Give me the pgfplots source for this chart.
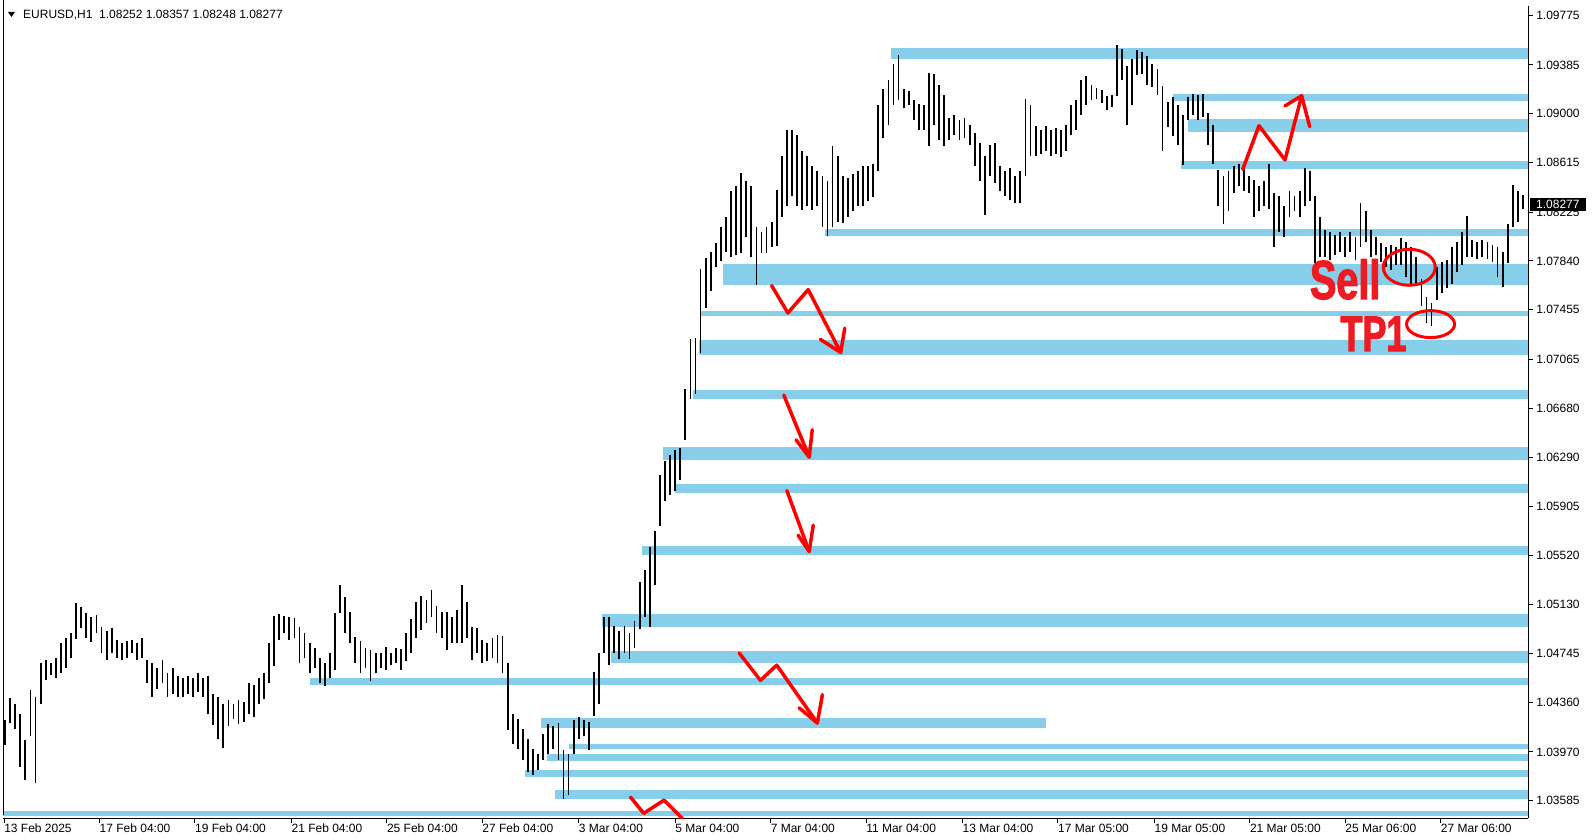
\documentclass[border=0pt]{standalone}
\usepackage{fontspec}
\setmainfont{Liberation Sans}
\newfontfamily\impactfont{Liberation Sans}[UprightFont={* Bold}, FakeStretch=0.72, FakeBold=2]
\usepackage{pgfplots}
\pgfplotsset{compat=1.18}
\usepackage{pgfplotstable}
\definecolor{zone}{RGB}{135,206,235}
\definecolor{mtred}{RGB}{237,28,36}

\pgfplotstableread{
x lo hi
5 1.04022 1.04222
10 1.04198 1.04398
15 1.04150 1.04350
20 1.03854 1.04270
25 1.03750 1.04062
30 1.04094 1.04462
35 1.03726 1.04406
40 1.04350 1.04670
45 1.04534 1.04694
50 1.04574 1.04670
55 1.04550 1.04710
60 1.04590 1.04830
65 1.04630 1.04870
70 1.04710 1.04910
75 1.04862 1.05142
80 1.04950 1.05110
85 1.04870 1.05062
90 1.04838 1.05030
95 1.04910 1.05046
100 1.04750 1.04958
105 1.04694 1.04926
110 1.04750 1.04950
115 1.04710 1.04854
120 1.04694 1.04830
125 1.04710 1.04846
130 1.04750 1.04854
135 1.04694 1.04830
140 1.04710 1.04870
145 1.04510 1.04694
150 1.04406 1.04670
155 1.04470 1.04630
160 1.04510 1.04694
165 1.04406 1.04590
170 1.04430 1.04630
175 1.04406 1.04566
180 1.04406 1.04550
185 1.04430 1.04566
190 1.04406 1.04550
195 1.04446 1.04590
200 1.04406 1.04550
205 1.04270 1.04566
210 1.04182 1.04430
215 1.04070 1.04406
220 1.03998 1.04350
225 1.04174 1.04382
230 1.04230 1.04350
235 1.04190 1.04382
240 1.04206 1.04366
245 1.04270 1.04510
250 1.04246 1.04494
255 1.04350 1.04550
260 1.04390 1.04590
265 1.04510 1.04830
270 1.04646 1.05038
275 1.04854 1.05054
280 1.04910 1.05038
285 1.04854 1.05030
290 1.04870 1.05022
295 1.04670 1.04958
300 1.04710 1.04910
305 1.04590 1.04830
310 1.04630 1.04790
315 1.04510 1.04710
320 1.04486 1.04670
325 1.04550 1.04750
330 1.04614 1.05062
335 1.05062 1.05286
340 1.04910 1.05190
345 1.04830 1.05070
350 1.04670 1.04878
355 1.04590 1.04846
360 1.04630 1.04790
365 1.04526 1.04774
370 1.04590 1.04750
375 1.04630 1.04750
380 1.04614 1.04798
385 1.04654 1.04750
390 1.04670 1.04790
395 1.04614 1.04782
400 1.04686 1.04910
405 1.04750 1.05014
410 1.04870 1.05150
415 1.04934 1.05198
420 1.04990 1.05166
425 1.05030 1.05246
430 1.04910 1.05118
435 1.04870 1.05070
440 1.04774 1.05070
445 1.04830 1.05030
450 1.04830 1.05086
455 1.04830 1.05286
460 1.04870 1.05150
465 1.04694 1.04958
470 1.04750 1.04950
475 1.04670 1.04854
480 1.04686 1.04830
485 1.04710 1.04870
490 1.04670 1.04894
495 1.04590 1.04886
500 1.04142 1.04670
505 1.04030 1.04270
510 1.03990 1.04230
515 1.03910 1.04150
520 1.03814 1.04070
525 1.03790 1.03990
530 1.03830 1.03950
535 1.03910 1.04110
540 1.03950 1.04190
545 1.03990 1.04174
550 1.03910 1.04198
555 1.03598 1.03982
560 1.03630 1.03950
565 1.03950 1.04222
570 1.04070 1.04246
575 1.04094 1.04222
580 1.03982 1.04206
585 1.04254 1.04598
590 1.04350 1.04750
595 1.04750 1.05030
600 1.04654 1.05030
605 1.04750 1.04966
610 1.04702 1.04926
615 1.04750 1.04966
620 1.04702 1.04910
625 1.04790 1.05006
630 1.04942 1.05310
635 1.05030 1.05406
640 1.04958 1.05582
645 1.05286 1.05710
650 1.05750 1.06150
655 1.05950 1.06262
660 1.05998 1.06310
665 1.06030 1.06350
670 1.06110 1.06366
675 1.06430 1.06830
680 1.06750 1.07222
685 1.06790 1.07230
690 1.07118 1.07774
695 1.07470 1.07862
700 1.07606 1.07910
705 1.07790 1.07982
710 1.07838 1.08110
715 1.07910 1.08190
720 1.07870 1.08390
725 1.07886 1.08430
730 1.07902 1.08534
735 1.08030 1.08470
740 1.07870 1.08430
745 1.07654 1.08110
750 1.07902 1.08070
755 1.07902 1.08110
760 1.07950 1.08150
765 1.07958 1.08398
770 1.08190 1.08670
775 1.08270 1.08870
780 1.08350 1.08870
785 1.08270 1.08830
790 1.08238 1.08710
795 1.08270 1.08670
800 1.08238 1.08590
805 1.08270 1.08550
810 1.08110 1.08510
815 1.08038 1.08470
820 1.08110 1.08742
825 1.08150 1.08670
830 1.08142 1.08510
835 1.08190 1.08494
840 1.08230 1.08526
845 1.08270 1.08550
850 1.08270 1.08590
855 1.08310 1.08590
860 1.08342 1.08606
865 1.08550 1.09070
870 1.08806 1.09198
875 1.08910 1.09270
880 1.09070 1.09390
885 1.09110 1.09462
890 1.09046 1.09198
895 1.09070 1.09182
900 1.08950 1.09110
905 1.08870 1.09078
910 1.08870 1.09070
915 1.08742 1.09318
920 1.08910 1.09310
925 1.08790 1.09230
930 1.08742 1.09150
935 1.08790 1.08966
940 1.08830 1.08990
945 1.08790 1.08950
950 1.08806 1.08966
955 1.08750 1.08910
960 1.08590 1.08846
965 1.08470 1.08766
970 1.08206 1.08670
975 1.08510 1.08750
980 1.08454 1.08766
985 1.08390 1.08590
990 1.08350 1.08550
995 1.08318 1.08574
1000 1.08294 1.08510
1005 1.08294 1.08550
1010 1.08510 1.09118
1015 1.08670 1.09070
1020 1.08670 1.08902
1025 1.08686 1.08870
1030 1.08710 1.08902
1035 1.08670 1.08870
1040 1.08686 1.08886
1045 1.08662 1.08870
1050 1.08710 1.08910
1055 1.08830 1.09070
1060 1.08870 1.09110
1065 1.08990 1.09270
1070 1.09070 1.09294
1075 1.09110 1.09230
1080 1.09118 1.09206
1085 1.09086 1.09190
1090 1.09030 1.09142
1095 1.09054 1.09150
1100 1.09142 1.09542
1105 1.09270 1.09510
1110 1.08910 1.09374
1115 1.09070 1.09430
1120 1.09302 1.09502
1125 1.09310 1.09486
1130 1.09230 1.09454
1135 1.09214 1.09390
1140 1.09150 1.09350
1145 1.08710 1.09222
1150 1.08894 1.09094
1155 1.08822 1.09134
1160 1.08750 1.09070
1165 1.08598 1.08990
1170 1.08950 1.09134
1175 1.08990 1.09158
1180 1.08950 1.09150
1185 1.08974 1.09158
1190 1.08750 1.09006
1195 1.08606 1.08910
1200 1.08270 1.08558
1205 1.08134 1.08510
1210 1.08230 1.08550
1215 1.08374 1.08590
1220 1.08430 1.08606
1225 1.08390 1.08574
1230 1.08374 1.08510
1235 1.08190 1.08478
1240 1.08230 1.08430
1245 1.08270 1.08470
1250 1.08246 1.08606
1255 1.07950 1.08374
1260 1.08070 1.08350
1265 1.08030 1.08270
1270 1.08190 1.08390
1275 1.08230 1.08350
1280 1.08190 1.08390
1285 1.08270 1.08574
1290 1.08310 1.08550
1295 1.07822 1.08350
1300 1.07870 1.08190
1305 1.07870 1.08086
1310 1.07846 1.08070
1315 1.07886 1.08046
1320 1.07910 1.08070
1325 1.07870 1.08030
1330 1.07910 1.08070
1335 1.07846 1.08030
1340 1.07950 1.08294
1345 1.07990 1.08230
1350 1.07870 1.08086
1355 1.07886 1.08030
1360 1.07830 1.07982
1365 1.07790 1.07950
1370 1.07766 1.07966
1375 1.07806 1.07950
1380 1.07806 1.08022
1385 1.07710 1.07990
1390 1.07662 1.07950
1395 1.07670 1.07870
1400 1.07486 1.07700
1405 1.07350 1.07558
1410 1.07326 1.07510
1415 1.07534 1.07790
1420 1.07590 1.07830
1425 1.07630 1.07846
1430 1.07662 1.07950
1435 1.07750 1.07990
1440 1.07806 1.08070
1445 1.07870 1.08198
1450 1.07870 1.08006
1455 1.07854 1.07990
1460 1.07870 1.08006
1465 1.07854 1.07990
1470 1.07830 1.07966
1475 1.07710 1.07950
1480 1.07638 1.07910
1485 1.07822 1.08134
1490 1.08110 1.08438
1495 1.08150 1.08390
1500 1.08248 1.08357
}\bars

\newcommand{\zone}[4]{\addplot[draw=none, fill=zone] coordinates {(#1,#3) (#2,#3) (#2,#4) (#1,#4)} -- cycle;}

\begin{document}
\begin{tikzpicture}[x=1pt,y=1pt]
\fill[white] (0,0) rectangle (1592,840);
\useasboundingbox (0,0) rectangle (1592,840);
\begin{pgfinterruptboundingbox}
\begin{axis}[
  at={(3,17)}, anchor=south west,
  scale only axis, width=1525pt, height=812pt,
  xmin=3, xmax=1505, ymin=1.03446, ymax=1.09846,
  axis x line*=bottom, axis y line*=right,
  axis line style={black, line width=1pt},
  tick align=outside, major tick length=5pt,
  tick style={black, line width=1pt},
  xtick={4,98,192,287,381,475,570,665,759,853,948,1042,1137,1231,1325,1419},
  xticklabels={13 Feb 2025,17 Feb 04:00,19 Feb 04:00,21 Feb 04:00,25 Feb 04:00,27 Feb 04:00,3 Mar 04:00,5 Mar 04:00,7 Mar 04:00,11 Mar 04:00,13 Mar 04:00,17 Mar 05:00,19 Mar 05:00,21 Mar 05:00,25 Mar 06:00,27 Mar 06:00},
  ytick={1.09775,1.09385,1.09000,1.08615,1.08225,1.07840,1.07455,1.07065,1.06680,1.06290,1.05905,1.05520,1.05130,1.04745,1.04360,1.03970,1.03585},
  yticklabels={1.09775,1.09385,1.09000,1.08615,1.08225,1.07840,1.07455,1.07065,1.06680,1.06290,1.05905,1.05520,1.05130,1.04745,1.04360,1.03970,1.03585},
  xticklabel style={anchor=north west, inner sep=0pt, font=\fontsize{12}{14}\selectfont},
  yticklabel style={anchor=west, inner sep=0pt, xshift=3pt, font=\fontsize{12}{14}\selectfont},
]
\zone{878}{1505}{1.09430}{1.09518}
\zone{1155}{1505}{1.09102}{1.09158}
\zone{1170}{1505}{1.08854}{1.08958}
\zone{1163}{1505}{1.08566}{1.08630}
\zone{813}{1505}{1.08038}{1.08094}
\zone{712}{1505}{1.07654}{1.07814}
\zone{690}{1505}{1.07406}{1.07446}
\zone{688}{1505}{1.07102}{1.07214}
\zone{683}{1505}{1.06750}{1.06822}
\zone{653}{1505}{1.06270}{1.06374}
\zone{665}{1505}{1.06014}{1.06078}
\zone{632}{1505}{1.05526}{1.05590}
\zone{593}{1505}{1.04958}{1.05054}
\zone{602}{1505}{1.04670}{1.04766}
\zone{305}{1505}{1.04494}{1.04550}
\zone{533}{1030}{1.04158}{1.04238}
\zone{560}{1505}{1.03990}{1.04030}
\zone{539}{1505}{1.03902}{1.03950}
\zone{517}{1505}{1.03774}{1.03830}
\zone{547}{1505}{1.03598}{1.03670}
\zone{3}{1505}{1.03462}{1.03502}

\addplot[draw=none, mark=none,
  error bars/.cd, y dir=plus, y explicit, error mark=none,
  error bar style={draw=black, line width=1.8pt}]
  table[x=x, y=lo, y error expr=\thisrow{hi}-\thisrow{lo}] {\bars};

% red arrows
\addplot[red, line width=3.5pt, line join=round, line cap=round] coordinates {(1224,1.08562) (1240,1.08906) (1265.6,1.08636) (1282,1.09142)};
\addplot[red, line width=3.5pt, line join=round, line cap=round] coordinates {(1265.6,1.09062) (1282,1.09142) (1290,1.08898)};
\addplot[red, line width=3.5pt, line join=round, line cap=round] coordinates {(760,1.07646) (776,1.07430) (796,1.07614) (828,1.07118)};
\addplot[red, line width=3.5pt, line join=round, line cap=round] coordinates {(808,1.07222) (828,1.07118) (832,1.07310)};
\addplot[red, line width=3.5pt, line join=round, line cap=round] coordinates {(772,1.06782) (797,1.06294)};
\addplot[red, line width=3.5pt, line join=round, line cap=round] coordinates {(784,1.06430) (797,1.06294) (800,1.06510)};
\addplot[red, line width=3.5pt, line join=round, line cap=round] coordinates {(775,1.06030) (797,1.05550)};
\addplot[red, line width=3.5pt, line join=round, line cap=round] coordinates {(786,1.05678) (797,1.05550) (801,1.05758)};
\addplot[red, line width=3.5pt, line join=round, line cap=round] coordinates {(728,1.04750) (749,1.04534) (765,1.04654) (805,1.04198)};
\addplot[red, line width=3.5pt, line join=round, line cap=round] coordinates {(787,1.04318) (805,1.04198) (810,1.04422)};
\addplot[red, line width=3.5pt, line join=round, line cap=round] coordinates {(621,1.03614) (634,1.03486) (654,1.03590) (672,1.03446)};

\draw[red, line width=3pt] (axis cs:1388,1.07790) ellipse [x radius=26pt, y radius=18pt];
\draw[red, line width=3pt] (axis cs:1409,1.07342) ellipse [x radius=24pt, y radius=13.5pt];

\node[anchor=base west, inner sep=0pt, text=mtred, font=\impactfont\fontsize{55}{55}\selectfont] at (axis cs:1290,1.07540) {Sell};
\node[anchor=base west, inner sep=0pt, text=mtred, font=\impactfont\fontsize{50}{50}\selectfont] at (axis cs:1320,1.07130) {TP1};
\end{axis}
\end{pgfinterruptboundingbox}
% left border
\draw[black, line width=1pt] (3.5,25) -- (3.5,840);
% header
\fill[black] (8,828) -- (15,828) -- (11.5,823) -- cycle;
\node[anchor=west, inner sep=0pt, font=\fontsize{12}{14}\selectfont] at (23,824.5) {EURUSD,H1\ \ 1.08252 1.08357 1.08248 1.08277};
% current price box
\fill[black] (1530,629) rectangle (1586,642);
\node[anchor=west, inner sep=0pt, text=white, font=\fontsize{12}{14}\selectfont] at (1536,635.5) {1.08277};
\end{tikzpicture}
\end{document}
